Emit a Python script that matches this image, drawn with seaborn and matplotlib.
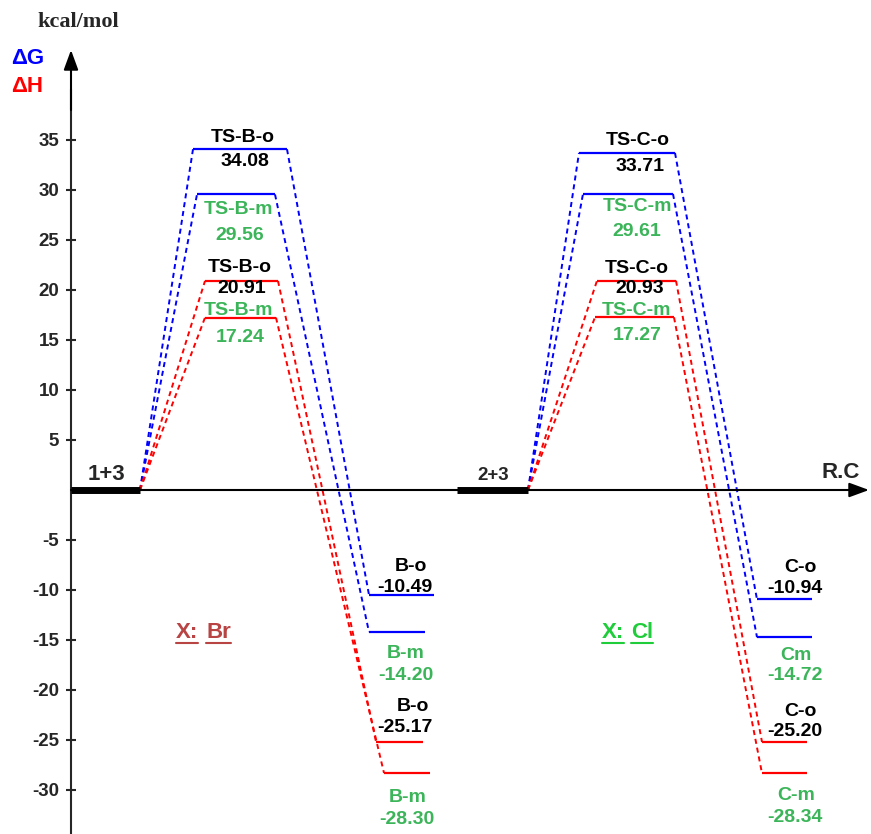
"""
Energy profile for the Br / Cl systems (dG blue, dH red), kcal/mol.
"""

import pandas as pd
import matplotlib
matplotlib.use('Agg')
import matplotlib.pyplot as plt
import seaborn as sns

# ---- data (kcal/mol) ----
br_ts_names = ['TS-B-o', 'TS-B-m']
br_prod_names_g = ['B-o', 'B-m']
br_prod_names_h = ['B-o', 'B-m']
br_dG_ts = [34.08, 29.56]
br_dG_prod = [-10.49, -14.20]
br_dH_ts = [20.91, 17.24]
br_dH_prod = [-25.17, -28.30]

cl_ts_names = ['TS-C-o', 'TS-C-m']
cl_prod_names_g = ['C-o', 'Cm']
cl_prod_names_h = ['C-o', 'C-m']
cl_dG_ts = [33.71, 29.61]
cl_dG_prod = [-10.94, -14.72]
cl_dH_ts = [20.93, 17.27]
cl_dH_prod = [-25.20, -28.34]

reactants = ['1+3', '2+3']
reactant_energy = [0.0, 0.0]

y_ticks = [35, 30, 25, 20, 15, 10, 5, -5, -10, -15, -20, -25, -30]

# ---- layout (x in pixels, label dy in pixels, + is downward) ----
PX = 10.0  # pixels per kcal/mol
BLUE, RED, GREEN, BLACK = '#0000ff', '#ff0000', '#3cb55a', 'black'
react_span = [(71, 140), (457, 528)]
# (x0, x1, name_x, name_dy, val_x, val_dy)
br_layout = {
    'G_ts': [(193, 287, 243, -12, 245, 12), (197, 275, 238, 15, 240, 41)],
    'H_ts': [(205, 278, 240, -13, 242, 8), (205, 276, 238, -7, 240, 20)],
    'G_prod': [(369, 434, 411, -28, 405, -7), (369, 425, 406, 22, 406, 43)],
    'H_prod': [(376, 423, 413, -35, 405, -14), (384, 430, 408, 25, 407, 47)],
}
cl_layout = {
    'G_ts': [(579, 675, 638, -12, 640, 14), (583, 673, 637, 13, 637, 38)],
    'H_ts': [(597, 676, 637, -12, 640, 8), (595, 674, 636, -7, 637, 18)],
    'G_prod': [(757, 812, 800, -32, 795, -11), (757, 812, 796, 18, 795, 38)],
    'H_prod': [(762, 807, 800, -31, 795, -11), (762, 807, 796, 22, 795, 44)],
}

systems = [
    dict(react=0, lay=br_layout, ts=br_ts_names, pg=br_prod_names_g, ph=br_prod_names_h,
         G_ts=br_dG_ts, G_prod=br_dG_prod, H_ts=br_dH_ts, H_prod=br_dH_prod),
    dict(react=1, lay=cl_layout, ts=cl_ts_names, pg=cl_prod_names_g, ph=cl_prod_names_h,
         G_ts=cl_dG_ts, G_prod=cl_dG_prod, H_ts=cl_dH_ts, H_prod=cl_dH_prod),
]

# build segment tables for seaborn
levels, conns, labels = [], [], []
seg = 0
for s in systems:
    rx0, rx1 = react_span[s['react']]
    r_e = reactant_energy[s['react']]
    for q, qname in [('G', 'ΔG'), ('H', 'ΔH')]:
        for i in range(2):
            ts_e = s[q + '_ts'][i]
            pr_e = s[q + '_prod'][i]
            t = s['lay'][q + '_ts'][i]
            p = s['lay'][q + '_prod'][i]
            for (x0, x1), e in [((t[0], t[1]), ts_e), ((p[0], p[1]), pr_e)]:
                levels += [dict(x=x0, y=e, seg=seg, q=qname), dict(x=x1, y=e, seg=seg, q=qname)]
                seg += 1
            conns += [dict(x=rx1, y=r_e, seg=seg, q=qname), dict(x=t[0], y=ts_e, seg=seg, q=qname)]
            seg += 1
            conns += [dict(x=t[1], y=ts_e, seg=seg, q=qname), dict(x=p[0], y=pr_e, seg=seg, q=qname)]
            seg += 1
            col = BLACK if i == 0 else GREEN
            pnames = s['pg'] if q == 'G' else s['ph']
            labels.append((s['ts'][i], t[2], ts_e - t[3] / PX, col))
            labels.append(('%.2f' % ts_e, t[4], ts_e - t[5] / PX, col))
            labels.append((pnames[i], p[2], pr_e - p[3] / PX, col))
            labels.append(('%.2f' % pr_e, p[4], pr_e - p[5] / PX, col))

df_levels = pd.DataFrame(levels)
df_conns = pd.DataFrame(conns)
df_react = pd.DataFrame([dict(x=x, y=reactant_energy[i], seg=i)
                         for i, span in enumerate(react_span) for x in span])

# ---- figure ----
sns.set_style('white')
plt.rcParams['font.family'] = ['Liberation Sans', 'DejaVu Sans']
plt.rcParams['font.weight'] = 'bold'

fig = plt.figure(figsize=(8.71, 8.34), dpi=100)
ax = fig.add_axes([0, 0, 1, 1])
ymax = 490 / PX
ymin = -(834 - 490) / PX
ax.set_xlim(0, 871)
ax.set_ylim(ymin, ymax)

pal = {'ΔG': BLUE, 'ΔH': RED}
sns.lineplot(data=df_conns, x='x', y='y', hue='q', units='seg', estimator=None,
             sort=False, palette=pal, linewidth=1.4, legend=False, ax=ax)
for ln in ax.lines:
    ln.set_dashes((2.6, 2.0))
    ln.set_dash_capstyle('butt')
sns.lineplot(data=df_levels, x='x', y='y', hue='q', units='seg', estimator=None,
             sort=False, palette=pal, linewidth=1.6, legend=False, ax=ax,
             solid_capstyle='butt')
sns.lineplot(data=df_react, x='x', y='y', units='seg', estimator=None, sort=False,
             color='black', linewidth=5, legend=False, ax=ax, zorder=5,
             solid_capstyle='butt')

# axes with arrows
for sp in ['top', 'right', 'bottom']:
    ax.spines[sp].set_visible(False)
ax.spines['left'].set_position(('data', 71))
ax.spines['left'].set_linewidth(1.5)
ax.spines['left'].set_bounds(ymin, 40)
ax.set_yticks(y_ticks)
ax.set_yticklabels([str(v) for v in y_ticks])
ax.tick_params(axis='y', direction='inout', length=7, width=1.5, pad=5,
               labelsize=13.5, left=True)
for lab in ax.get_yticklabels():
    lab.set_fontweight('bold')
ax.set_xticks([])
ax.set_xlabel('')
ax.set_ylabel('')
arrow = dict(arrowstyle='-|>,head_length=0.6,head_width=0.22', lw=1.5,
             color='black', mutation_scale=20, shrinkA=0, shrinkB=0)
ax.annotate('', xy=(71, (490 - 50) / PX), xytext=(71, 38), arrowprops=arrow)
ax.annotate('', xy=(869, 0), xytext=(71, 0), arrowprops=arrow)

# level labels
for txt, x, y, col in labels:
    ax.text(x, y, txt, color=col, fontsize=14, fontweight='bold',
            ha='center', va='center')

ax.text(106, (490 - 474) / PX, reactants[0], fontsize=16, fontweight='bold',
        ha='center', va='center')
ax.text(493, (490 - 475) / PX, reactants[1], fontsize=13.5, fontweight='bold',
        ha='center', va='center')
ax.text(841, (490 - 473) / PX, 'R.C', fontsize=16, fontweight='bold',
        ha='center', va='center')

ax.text(78, (490 - 22) / PX, 'kcal/mol', fontsize=16, fontweight='bold',
        family=['Liberation Serif', 'DejaVu Serif'], ha='center', va='center')
ax.text(11, (490 - 58) / PX, 'ΔG', color=BLUE, fontsize=16, fontweight='bold',
        ha='left', va='center')
ax.text(11, (490 - 87) / PX, 'ΔH', color=RED, fontsize=16, fontweight='bold',
        ha='left', va='center')

# underlined halogen tags
tags = []
for words, xs, col in [(['X:', 'Br'], [176, 206], '#b84444'),
                       (['X:', 'Cl'], [602, 631], '#1fcc3a')]:
    for w, x in zip(words, xs):
        t = ax.text(x, (490 - 633) / PX, w, color=col, fontsize=16,
                    fontweight='bold', ha='left', va='center')
        tags.append((t, col))

fig.canvas.draw()
renderer = fig.canvas.get_renderer()
inv = ax.transData.inverted()
for t, col in tags:
    bb = t.get_window_extent(renderer)
    (x0, _), (x1, _) = inv.transform([(bb.x0, 0), (bb.x1, 0)])
    ax.plot([x0, x1], [(490 - 643) / PX] * 2, color=col, lw=1.5)

fig.savefig('out.png', dpi=100)
